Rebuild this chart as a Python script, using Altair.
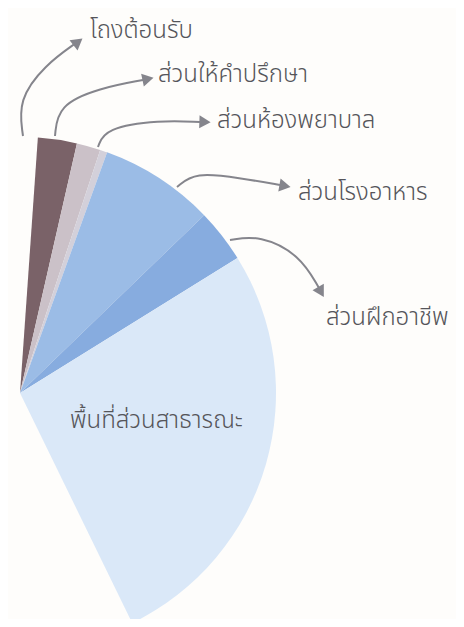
import math
import altair as alt
import pandas as pd

# ---- data -------------------------------------------------------------
categories = ["โถงต้อนรับ", "ส่วนให้คำปรึกษา", "ส่วนห้องพยาบาล",
              "ส่วนโรงอาหาร", "ส่วนฝึกอาชีพ", "พื้นที่ส่วนสาธารณะ"]
shares = [5.9, 3.6, 1.1, 17.4, 8.1, 63.9]
colors = ["#7a6268", "#cbc1c8", "#d3d0da", "#9bbce6", "#87acdf", "#dae8f8"]

# ---- layout (pixel positions in chart space) -------------------------
START_DEG, END_DEG = 4.0, 154.0
CX, CY, R = 12, 385, 256

label_x = [82, 150, 209, 290, 318, 62]
label_y = [30, 74, 120, 192, 317, 420]

arrow_paths = [
    [(15, 128), (10, 92), (37, 57), (68, 35)],
    [(47, 128), (50, 97), (92, 80), (135, 72)],
    [(90, 139), (97, 120), (152, 112), (192, 114)],
    [(169, 179), (187, 164), (232, 170), (272, 177)],
    [(222, 232), (252, 227), (292, 247), (311, 280)],
]
heads = [(70, 34, -38), (140, 71, -12), (197, 114, 2), (277, 178, 10), (313, 284, 60)]

df = pd.DataFrame({"category": categories, "share": shares,
                   "order": list(range(len(categories)))})

pie = alt.Chart(df).mark_arc(outerRadius=R, innerRadius=0, stroke=None).encode(
    theta=alt.Theta("share:Q", stack=True,
                    scale=alt.Scale(domain=[0, sum(shares)],
                                    range=[math.radians(START_DEG), math.radians(END_DEG)])),
    color=alt.Color("category:N", scale=alt.Scale(domain=categories, range=colors), legend=None),
    order=alt.Order("order:Q"),
    x=alt.value(CX), y=alt.value(CY),
)

rows = []
for i, path in enumerate(arrow_paths):
    for j, (px, py) in enumerate(path):
        rows.append({"arrow": i, "k": j, "x": px, "y": py})
adf = pd.DataFrame(rows)
lines = alt.Chart(adf).mark_line(interpolate="basis", color="#85858c", strokeWidth=2).encode(
    x=alt.X("x:Q", scale=None, axis=None),
    y=alt.Y("y:Q", scale=None, axis=None),
    detail="arrow:N", order="k:Q",
)

hdf = pd.DataFrame({"x": [h[0] for h in heads], "y": [h[1] for h in heads],
                    "a": [h[2] for h in heads]})
arrowheads = alt.Chart(hdf).mark_point(shape="triangle-right", filled=True, color="#85858c",
                                       size=170, opacity=1).encode(
    x=alt.X("x:Q", scale=None, axis=None),
    y=alt.Y("y:Q", scale=None, axis=None),
    angle=alt.Angle("a:Q", scale=None),
)

ldf = pd.DataFrame({"t": categories, "x": label_x, "y": label_y})
labels = alt.Chart(ldf).mark_text(align="left", baseline="alphabetic", fontSize=24,
                                  font="Noto Sans Thai, Noto Sans", color="#55555a",
                                  fontWeight=300).encode(
    x=alt.X("x:Q", scale=None, axis=None),
    y=alt.Y("y:Q", scale=None, axis=None),
    text="t:N",
)

chart = alt.layer(pie, lines, arrowheads, labels).properties(
    width=448, height=611, padding=0,
    autosize=alt.AutoSizeParams(type="none"),
    background="#fefdfb",
).configure_view(stroke=None)

chart.save("out.html", embed_options={"renderer": "svg", "actions": False})
